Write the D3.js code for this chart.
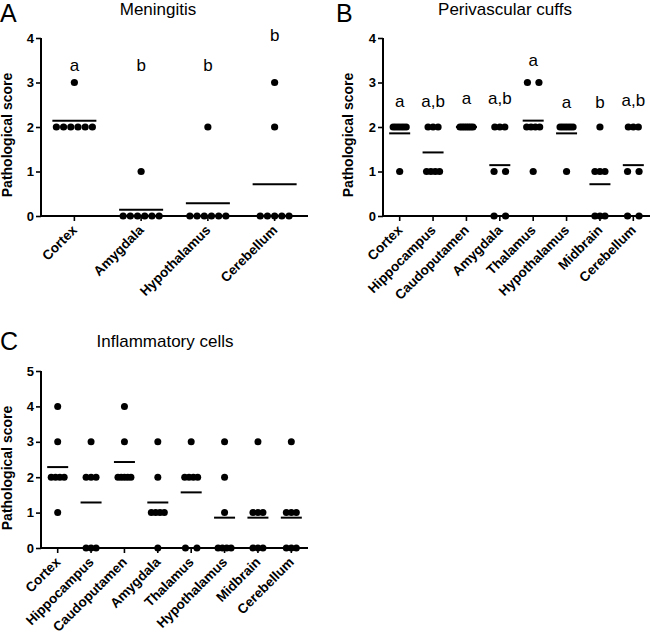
<!DOCTYPE html>
<html><head><meta charset="utf-8">
<script src="https://cdn.jsdelivr.net/npm/d3@7"></script>
<style>body{margin:0;background:#fff}svg{display:block;font-family:"Liberation Sans",Arial,sans-serif}</style>
</head><body>
<svg id="c" width="650" height="634"></svg>
<script>
// ---- Data ----
const catsA = ["Cortex","Amygdala","Hypothalamus","Cerebellum"];
const valsA = [[3,2,2,2,2,2,2],[1,0,0,0,0,0,0],[2,0,0,0,0,0,0],[3,2,0,0,0,0,0]];
const lettersA = ["a","b","b","b"];
const letterYA = [3.26,3.26,3.26,3.94];

const catsB = ["Cortex","Hippocampus","Caudoputamen","Amygdala","Thalamus","Hypothalamus","Midbrain","Cerebellum"];
const valsB = [[2,2,2,2,2,2,1],[2,2,2,1,1,1,1],[2,2,2,2,2,2,2],[2,2,2,1,1,0,0],[3,3,2,2,2,2,1],[2,2,2,2,2,2,1],[2,1,1,1,0,0,0],[2,2,2,1,1,0,0]];
const lettersB = ["a","a,b","a","a,b","a","a","b","a,b"];
const letterYB = [2.46,2.46,2.51,2.52,3.36,2.43,2.43,2.47];

const catsC = ["Cortex","Hippocampus","Caudoputamen","Amygdala","Thalamus","Hypothalamus","Midbrain","Cerebellum"];
const valsC = [[4,3,2,2,2,2,1],[3,2,2,2,0,0,0],[4,3,2,2,2,2,2],[3,2,1,1,1,1,0],[3,2,2,2,2,0,0],[3,2,1,0,0,0,0],[3,1,1,1,0,0,0],[3,1,1,1,0,0,0]];

const yTicksA = [0,1,2,3,4];
const yTicksC = [0,1,2,3,4,5];

const svg = d3.select("#c");
const FF = "Liberation Sans, Arial, sans-serif";

function panel(o){
  const g = svg.append("g");
  const x = d3.scaleBand().domain(o.cats).range([o.x0,o.x1]);
  const y = d3.scaleLinear().domain([0,o.ymax]).range([o.y0,o.y1]);
  // panel letter and title
  g.append("text").attr("x",o.lx).attr("y",o.ly).attr("font-size",25).text(o.letter);
  g.append("text").attr("x",o.tx).attr("y",o.ty).attr("font-size",17).attr("text-anchor","middle").text(o.title);
  // y axis
  const ya = g.append("g").attr("transform",`translate(${o.x0},0)`)
    .call(d3.axisLeft(y).tickValues(o.yticks).tickFormat(d3.format("d")).tickSize(5).tickPadding(2));
  ya.select(".domain").attr("stroke-width",2).attr("d",`M0,${o.y0}V${o.y1}`);
  ya.selectAll(".tick line").attr("stroke-width",1.6);
  ya.selectAll(".tick text").attr("font-size",13).attr("font-weight","bold").attr("font-family",FF).attr("fill","#000");
  // x axis
  const xa = g.append("g").attr("transform",`translate(0,${o.y0})`)
    .call(d3.axisBottom(x).tickSize(5).tickSizeOuter(0));
  xa.select(".domain").attr("stroke-width",2).attr("d",`M${o.x0},0H${o.x1}`);
  xa.selectAll(".tick line").attr("stroke-width",1.6);
  xa.selectAll(".tick text").attr("font-size",13.5).attr("font-weight","bold").attr("font-family",FF).attr("fill","#000")
    .attr("text-anchor","end").attr("dy",null).attr("y",null)
    .attr("transform","translate(3.5,15) rotate(-45)");
  // y title
  g.append("text").attr("transform",`translate(${o.atx},${o.aty}) rotate(-90)`)
    .attr("text-anchor","middle").attr("font-size",14).attr("font-weight","bold").text("Pathological score");
  // dots
  o.vals.forEach((vs,i)=>{
    const cx = x(o.cats[i]) + x.bandwidth()/2;
    const groups = d3.group(vs, v=>v);
    groups.forEach((arr,v)=>{
      const n = arr.length;
      let w = n===1 ? 0 : n===2 ? o.two : Math.min((n-1)*o.sp, o.cap);
      arr.forEach((_,k)=>{
        const off = n===1 ? 0 : -w/2 + k*w/(n-1);
        g.append("circle").attr("cx",cx+off).attr("cy",y(v)).attr("r",o.r).attr("fill","#000");
      });
    });
    const m = d3.mean(vs);
    g.append("line").attr("x1",cx-o.mw/2).attr("x2",cx+o.mw/2).attr("y1",y(m)).attr("y2",y(m))
      .attr("stroke","#000").attr("stroke-width",2);
    if(o.letters){
      g.append("text").attr("x",cx).attr("y",y(o.letterY[i]))
        .attr("text-anchor","middle").attr("font-size",17).text(o.letters[i]);
    }
  });
}

panel({cats:catsA, vals:valsA, letters:lettersA, letterY:letterYA, ymax:4, yticks:yTicksA,
  x0:41, x1:308, y0:216, y1:38, letter:"A", lx:0, ly:22, title:"Meningitis", tx:158, ty:15, atx:12, aty:135,
  sp:7.2, cap:40, two:11, r:3.6, mw:44});
panel({cats:catsB, vals:valsB, letters:lettersB, letterY:letterYB, ymax:4, yticks:yTicksA,
  x0:383, x1:650, y0:216, y1:38, letter:"B", lx:336, ly:22, title:"Perivascular cuffs", tx:505, ty:15, atx:353, aty:135,
  sp:5, cap:13, two:11.5, r:3.6, mw:21});
panel({cats:catsC, vals:valsC, ymax:5, yticks:yTicksC,
  x0:41, x1:308, y0:548, y1:371, letter:"C", lx:0, ly:350, title:"Inflammatory cells", tx:165, ty:347, atx:12, aty:468,
  sp:5, cap:13, two:11.5, r:3.5, mw:21});
</script>
</body></html>
